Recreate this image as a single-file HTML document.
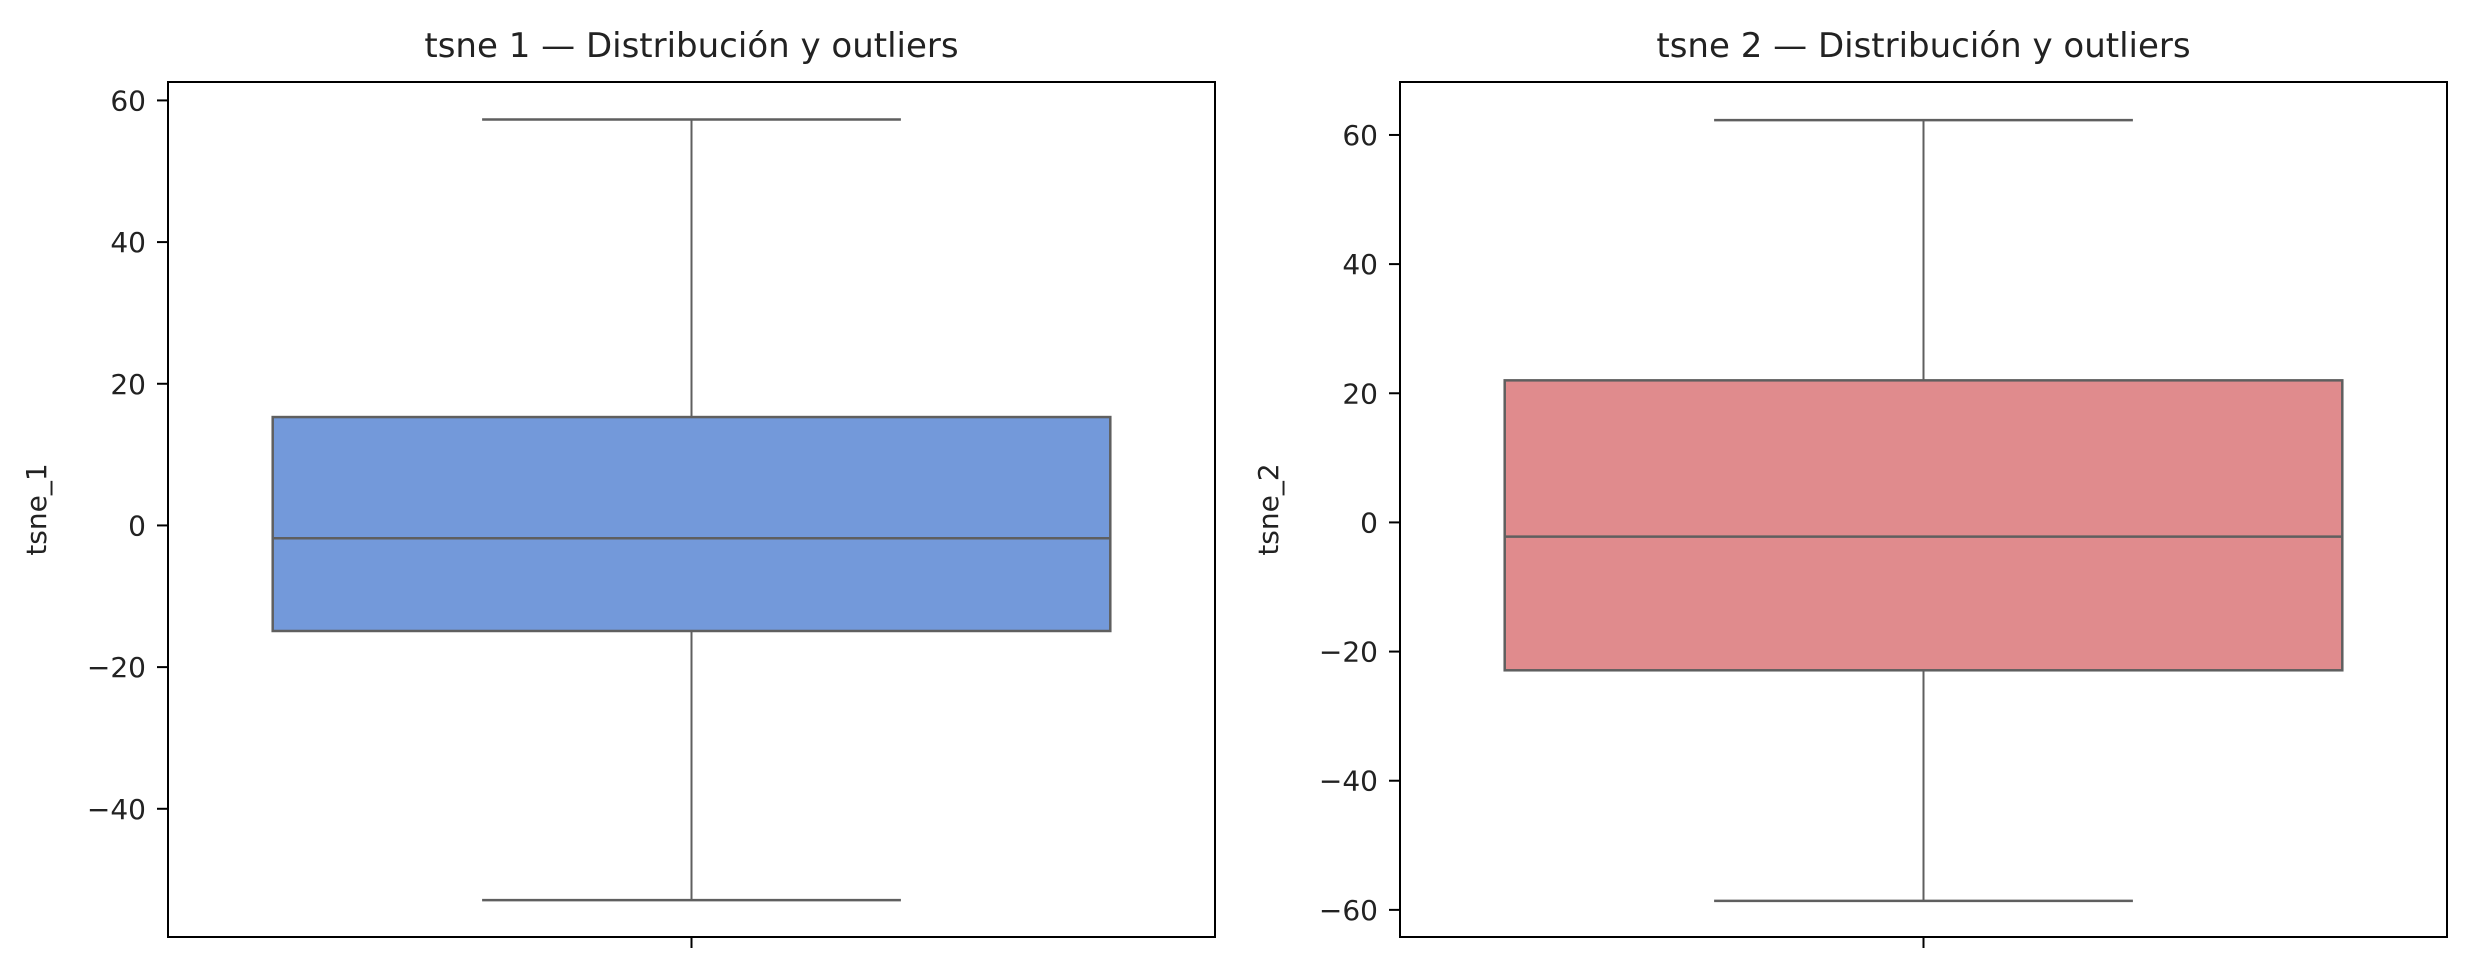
<!DOCTYPE html>
<html><head><meta charset="utf-8"><style>
html,body{margin:0;padding:0;background:#fff;}
svg{display:block;font-family:"DejaVu Sans","Liberation Sans",sans-serif;}
</style></head><body>
<svg id="chart" width="2466" height="966" viewBox="0 0 2466 966"></svg>
<script>
const panelTitles = ["tsne 1 — Distribución y outliers", "tsne 2 — Distribución y outliers"];
const axisLabels = ["tsne_1", "tsne_2"];
const whiskerLow = [-52.9, -58.6];
const q1Values = [-14.9, -22.9];
const medianValues = [-1.8, -2.2];
const q3Values = [15.3, 22.0];
const whiskerHigh = [57.3, 62.3];
const yMinValues = [-58.1, -64.2];
const yMaxValues = [62.6, 68.2];
const tickSets = [[-40, -20, 0, 20, 40, 60], [-60, -40, -20, 0, 20, 40, 60]];
const boxColors = ["#7399da", "#e08b8d"];

const NS = "http://www.w3.org/2000/svg";
const svg = document.getElementById("chart");
const panels = [{x0:168, x1:1215, y0:82, y1:937}, {x0:1400, x1:2447, y0:82, y1:937}];
function mk(tag, attrs, parent) {
  const e = document.createElementNS(NS, tag);
  for (const k in attrs) e.setAttribute(k, attrs[k]);
  (parent || svg).appendChild(e);
  return e;
}
panels.forEach((p, i) => {
  const g = mk("g", {});
  
  
  const y = v => p.y1 - (v - yMinValues[i]) / (yMaxValues[i] - yMinValues[i]) * (p.y1 - p.y0);
  const w = p.x1 - p.x0, cx = p.x0 + w / 2;
  const bx0 = p.x0 + w * 0.1, bx1 = p.x1 - w * 0.1;
  const cx0 = p.x0 + w * 0.3, cx1 = p.x1 - w * 0.3;
  const line = "#5f5f5f", lw = 2;
  const wl = mk("line", {x1:cx, x2:cx, y1:y(whiskerHigh[i]), y2:y(q3Values[i]), stroke:line, "stroke-width":lw}, g);
  
  
  const wl2 = mk("line", {x1:cx, x2:cx, y1:y(q1Values[i]), y2:y(whiskerLow[i]), stroke:line, "stroke-width":lw}, g);
  
  
  const c1 = mk("line", {x1:cx0, x2:cx1, y1:y(whiskerHigh[i]), y2:y(whiskerHigh[i]), stroke:line, "stroke-width":lw + 0.5}, g);
  
  
  const c2 = mk("line", {x1:cx0, x2:cx1, y1:y(whiskerLow[i]), y2:y(whiskerLow[i]), stroke:line, "stroke-width":lw + 0.5}, g);
  
  
  const box = mk("rect", {x:bx0, y:y(q3Values[i]), width:bx1 - bx0, height:y(q1Values[i]) - y(q3Values[i]), fill:boxColors[i], stroke:line, "stroke-width":lw + 0.5}, g);
  
  
  const md = mk("line", {x1:bx0, x2:bx1, y1:y(medianValues[i]), y2:y(medianValues[i]), stroke:line, "stroke-width":lw + 0.5}, g);
  
  
  const fr = mk("rect", {x:p.x0, y:p.y0, width:w, height:p.y1 - p.y0, fill:"none", stroke:"#000", "stroke-width":2}, g);
  
  
  tickSets[i].forEach(t => {
    const tl = mk("line", {x1:p.x0 - 11, x2:p.x0, y1:y(t), y2:y(t), stroke:"#000", "stroke-width":2}, g);
    
    
    const tx = mk("text", {x:p.x0 - 22, y:y(t) + 10, "text-anchor":"end", "font-size":"28", fill:"#222"}, g);
    tx.textContent = t < 0 ? "\u2212" + Math.abs(t) : String(t);
    
    
  });
  const xt = mk("line", {x1:cx, x2:cx, y1:p.y1, y2:p.y1 + 11, stroke:"#000", "stroke-width":2}, g);
  
  
  const yl = mk("text", {x:0, y:0, transform:"translate(" + (p.x0 - 122) + "," + ((p.y0 + p.y1) / 2) + ") rotate(-90)", "text-anchor":"middle", "font-size":"28", fill:"#222"}, g);
  yl.textContent = axisLabels[i];
  
  
  const ti = mk("text", {x:(p.x0 + p.x1) / 2, y:p.y0 - 25, "text-anchor":"middle", "font-size":"34", fill:"#222"}, g);
  ti.textContent = panelTitles[i];
  
  
});
</script>
</body></html>
